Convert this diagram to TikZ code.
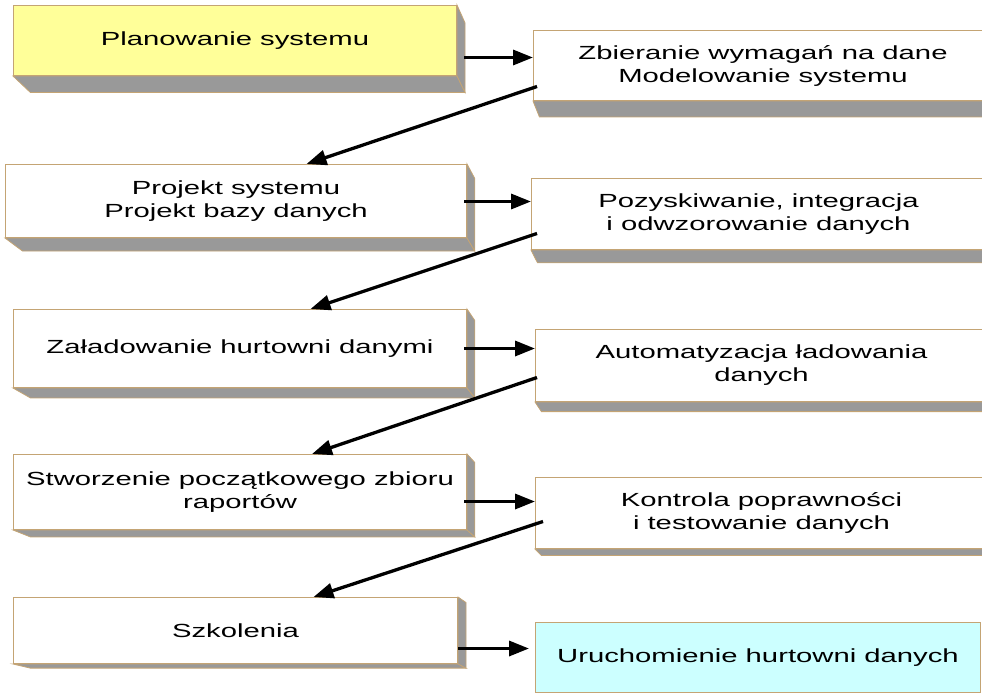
\documentclass[tikz,border=0pt]{standalone}
\usepackage{fontspec}
\setmainfont{Liberation Sans}[FakeStretch=1.54]
\usetikzlibrary{calc,arrows.meta}
\pgfdeclarelayer{bg}
\pgfsetlayers{bg,main}
\definecolor{edge}{RGB}{196,164,116}
\definecolor{sidegray}{RGB}{153,153,153}
\definecolor{paleyellow}{RGB}{255,255,153}
\definecolor{palecyan}{RGB}{204,255,255}
% perspective depth of the boxes: share of the way to the vanishing point
\newcommand\depthk{0.021}
\newcommand\boxdepth[1]{%
  \begin{pgfonlayer}{bg}
    \filldraw[side] (#1.south west) -- (#1.south east)
      -- ($(#1.south east)!\depthk!(vp)$) -- ($(#1.south west)!\depthk!(vp)$) -- cycle;
    \filldraw[side] (#1.north east) -- ($(#1.north east)!\depthk!(vp)$)
      -- ($(#1.south east)!\depthk!(vp)$) -- (#1.south east) -- cycle;
  \end{pgfonlayer}}
\tikzset{
  stage/.style={draw=edge, line width=1pt, fill=white, anchor=north west,
    inner sep=0pt, align=center, font=\fontsize{19}{23}\selectfont},
  side/.style={draw=edge, line width=0.8pt, fill=sidegray},
  arr/.style={line width=3.3pt, -{Triangle[length=20pt,width=15pt]}},
}
\begin{document}
\begin{tikzpicture}[x=1pt,y=-1pt]
\useasboundingbox (0,0) rectangle (982,694);
\clip (0,0) rectangle (982,694);
\coordinate (vp) at (840,860);

% left column
\node[stage, fill=paleyellow, minimum width=443, minimum height=70] (b1) at (13,5) {Planowanie systemu};
\node[stage, minimum width=461, minimum height=73] (b3) at (5,164) {Projekt systemu\\Projekt bazy danych};
\node[stage, minimum width=453, minimum height=78] (b5) at (13,309) {Załadowanie hurtowni danymi};
\node[stage, minimum width=453, minimum height=75] (b7) at (13,454) {Stworzenie początkowego zbioru\\raportów};
\node[stage, minimum width=444, minimum height=66] (b9) at (13,597) {Szkolenia};

% right column
\node[stage, minimum width=459, minimum height=70] (b2) at (533,30) {Zbieranie wymagań na dane\\Modelowanie systemu};
\node[stage, minimum width=454, minimum height=71] (b4) at (531,178) {Pozyskiwanie, integracja\\i odwzorowanie danych};
\node[stage, minimum width=452, minimum height=72] (b6) at (535,329) {Automatyzacja ładowania\\danych};
\node[stage, minimum width=452, minimum height=71] (b8) at (535,477) {Kontrola poprawności\\i testowanie danych};
\node[stage, fill=palecyan, minimum width=445, minimum height=70] (b10) at (535,622) {Uruchomienie hurtowni danych};

\boxdepth{b1}\boxdepth{b2}\boxdepth{b3}\boxdepth{b4}\boxdepth{b5}
\boxdepth{b6}\boxdepth{b7}\boxdepth{b8}\boxdepth{b9}

% step to the right
\draw[arr] (b1.east) ++(7,17) coordinate (s1) -- (s1 -| b2.west);
\draw[arr] (b3.east) ++(-3,0.5) coordinate (s2) -- (s2 -| b4.west);
\draw[arr] (b5.east) ++(-3,0) coordinate (s3) -- (s3 -| b6.west);
\draw[arr] (b7.east) ++(-3,9.5) coordinate (s4) -- (s4 -| b8.west);
\draw[arr, shorten >=6pt] (b9.east) ++(0,18) coordinate (s5) -- (s5 -| b10.west);

% step back to the left
\draw[arr] (b2.west) ++(4,21) -- ([xshift=70.5pt]b3.north);
\draw[arr] (b4.west) ++(6,19.5) -- ([xshift=70.5pt]b5.north);
\draw[arr] (b6.west) ++(2,12) -- ([xshift=72pt]b7.north);
\draw[arr] (b8.west) ++(8,8.5) -- ([xshift=78pt]b9.north);
\end{tikzpicture}
\end{document}
